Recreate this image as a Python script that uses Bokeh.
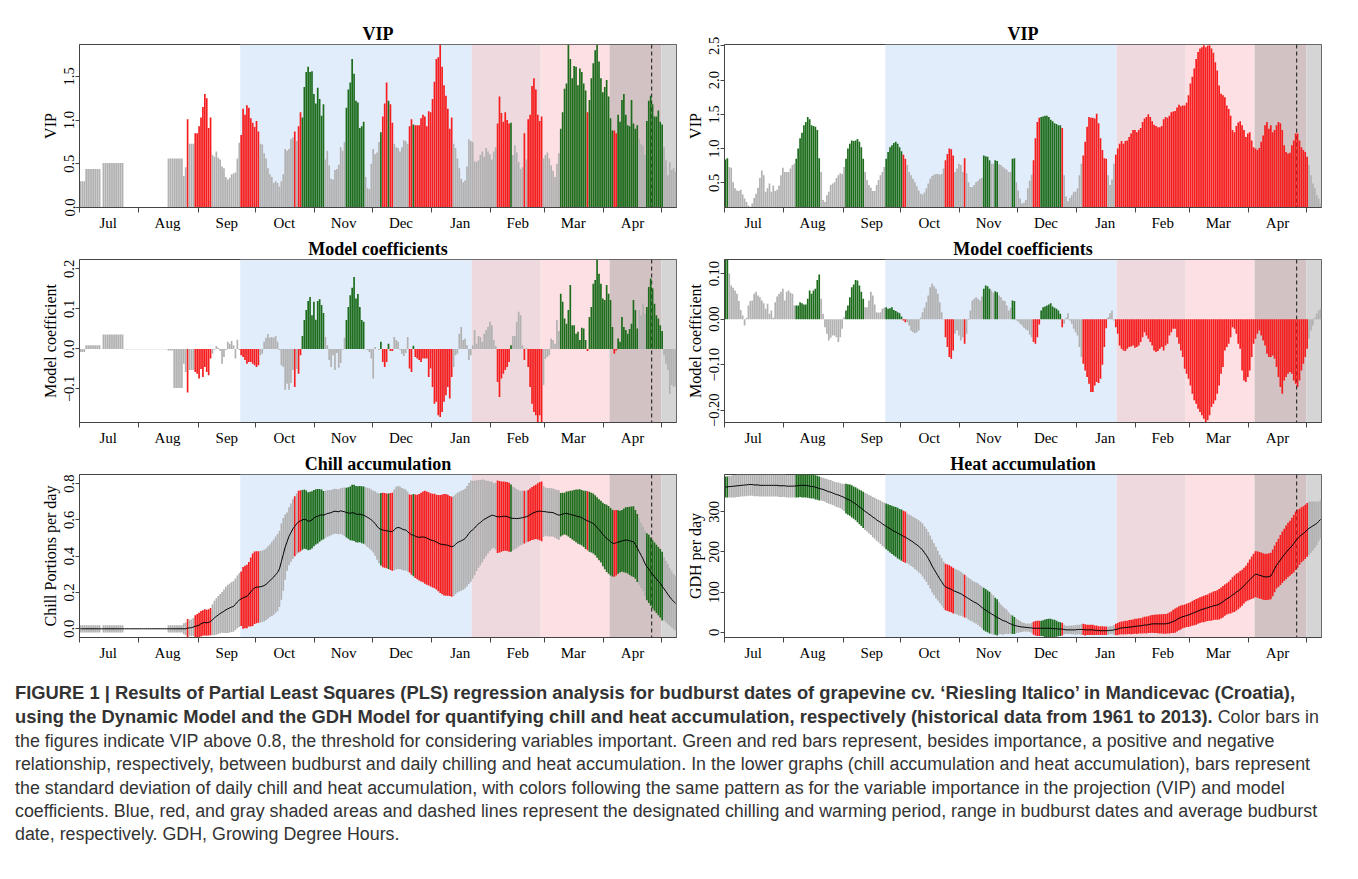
import numpy as np
from bokeh.plotting import figure
from bokeh.models import FixedTicker, Range1d, BoxAnnotation, Span, Div
from bokeh.layouts import column, row
from bokeh.embed import file_html
from bokeh.resources import INLINE


def vals(s):
    return [float(v) for v in s.split()]


N_DAYS = 312
month_names = ["Jul", "Aug", "Sep", "Oct", "Nov", "Dec", "Jan", "Feb", "Mar", "Apr"]
month_starts = [0, 31, 62, 92, 123, 153, 184, 215, 243, 274, 304]
month_mids = [15, 46, 77, 107, 138, 168, 199, 229, 258, 289]
chill_period = (84, 241)
heat_period = (205, 304)
budburst_range = (277, 312)
mean_budburst = 299

vip_left = vals("""
0.30 0.30 0.30 0.44 0.44 0.44 0.44 0.44 0.44 0.44
0.44 0.005 0.51 0.51 0.51 0.51 0.51 0.51 0.51 0.51
0.51 0.51 0.51 0.005 0.005 0.005 0.005 0.005 0.005 0.005
0.005 0.005 0.005 0.005 0.005 0.005 0.005 0.005 0.005 0.005
0.005 0.005 0.005 0.005 0.005 0.005 0.56 0.56 0.56 0.56
0.56 0.56 0.56 0.56 0.36 0.46 1.01 0.73 0.73 0.73
0.85 0.85 0.93 1.03 1.15 1.30 1.25 0.91 1.03 0.60
0.58 0.64 0.57 0.55 0.47 0.45 0.35 0.32 0.34 0.38
0.39 0.40 0.56 0.74 0.83 1.13 1.06 1.17 1.14 1.02
0.97 0.92 0.99 0.87 0.73 0.72 0.62 0.56 0.45 0.38
0.35 0.28 0.30 0.28 0.24 0.30 0.38 0.67 0.65 0.67
0.78 0.80 0.87 0.76 0.93 1.09 1.03 1.38 1.55 1.61
1.55 1.56 1.30 1.19 1.37 1.24 1.05 1.18 0.55 0.65
0.48 0.33 0.32 0.43 0.44 0.49 0.69 0.65 0.75 1.14
1.35 1.43 1.70 1.53 1.22 1.20 0.91 0.93 0.98 0.35
0.22 0.21 0.50 0.67 0.61 0.63 0.75 0.86 1.04 1.19
1.43 1.22 1.18 0.97 0.73 0.69 0.68 0.64 0.69 0.77
0.76 0.73 0.93 1.01 0.95 0.94 0.94 0.94 1.02 1.06
1.04 0.93 1.10 1.09 1.24 1.44 1.70 1.72 1.86 1.61
1.40 1.28 1.13 0.90 1.03 0.73 0.68 0.56 0.45 0.33
0.29 0.31 0.47 0.78 0.76 0.75 0.53 0.52 0.54 0.60
0.64 0.58 0.68 0.64 0.61 0.55 0.64 0.69 0.96 1.27
1.08 0.98 1.09 1.00 0.96 0.97 0.60 0.71 0.63 0.52
0.44 0.46 0.85 0.55 1.01 1.06 1.39 1.48 1.35 1.06
0.99 1.04 0.56 0.60 0.63 0.56 0.48 0.42 0.35 0.50
0.62 0.90 1.09 1.36 1.42 1.86 1.70 1.48 1.62 1.61
1.40 1.59 1.55 1.42 1.34 1.09 1.23 1.48 1.65 1.80
1.86 1.67 1.48 1.32 1.38 1.46 1.27 1.02 0.88 0.88
0.85 1.06 0.98 1.23 1.30 1.06 0.94 0.93 1.23 0.96
0.90 0.94 0.78 0.73 0.71 0.60 0.99 1.22 1.28 1.18
1.04 1.04 1.11 0.98 0.95 0.69 0.54 0.37 0.52 0.43
0.45 0.41
""")

coef_left = vals("""
-0.008 -0.008 -0.008 0.009 0.009 0.009 0.009 0.009 0.009 0.009
0.009 0.0 0.036 0.036 0.036 0.036 0.036 0.036 0.036 0.036
0.036 0.036 0.036 -0.001 -0.001 -0.001 -0.001 -0.001 -0.001 -0.001
-0.001 -0.001 -0.001 -0.001 -0.001 -0.001 -0.001 -0.001 -0.001 -0.001
-0.001 -0.001 -0.001 -0.001 -0.001 -0.001 -0.004 -0.004 -0.004 -0.098
-0.098 -0.098 -0.098 -0.098 -0.037 -0.058 -0.109 -0.053 -0.053 -0.053
-0.058 -0.062 -0.074 -0.050 -0.070 -0.045 -0.058 -0.066 -0.024 -0.012
-0.002 0.007 0.003 -0.005 -0.037 -0.020 -0.003 0.018 0.013 0.020
0.009 -0.024 0.023 -0.003 -0.016 -0.020 -0.028 -0.037 -0.033 -0.033
-0.037 -0.041 -0.045 -0.041 -0.016 -0.012 0.018 0.028 0.037 0.028
0.030 0.028 0.032 0.018 -0.003 -0.041 -0.045 -0.102 -0.087 -0.102
-0.085 -0.053 -0.095 -0.050 -0.062 -0.016 0.032 0.072 0.097 0.120
0.130 0.084 0.118 0.073 0.120 0.124 0.110 0.090 0.030 0.009
-0.028 -0.045 -0.016 -0.053 -0.010 -0.047 -0.035 -0.002 0.028 0.072
0.105 0.134 0.153 0.180 0.126 0.137 0.105 0.072 0.068 -0.001
-0.003 -0.008 -0.024 -0.074 0.005 0.0 -0.003 0.018 -0.033 -0.045
-0.033 0.013 -0.005 -0.005 0.030 0.022 0.018 -0.002 -0.012 -0.018
-0.010 0.030 -0.049 -0.058 0.008 -0.020 -0.024 -0.028 -0.033 -0.024
-0.024 -0.024 -0.070 -0.049 -0.095 -0.137 -0.132 -0.166 -0.170 -0.158
-0.132 -0.116 -0.095 -0.124 -0.070 -0.045 -0.016 -0.012 0.038 0.055
0.022 0.026 0.009 -0.028 -0.016 0.009 0.047 0.013 0.032 0.030
0.018 0.038 0.047 0.055 0.068 0.059 0.022 0.007 -0.083 -0.120
-0.074 -0.062 -0.053 -0.045 -0.033 0.009 0.032 0.032 0.068 0.093
0.084 0.009 -0.028 0.003 -0.045 -0.095 -0.137 -0.158 -0.166 -0.183
-0.166 -0.187 -0.090 -0.025 -0.020 -0.016 0.026 0.022 0.013 0.072
0.045 0.138 0.118 0.076 0.063 0.097 0.160 0.059 0.059 0.038
0.043 0.022 0.053 0.051 0.022 -0.005 0.080 0.105 0.163 0.172
0.223 0.188 0.163 0.126 0.122 0.160 0.138 0.122 0.055 -0.012
-0.004 0.026 0.018 0.080 0.055 0.047 0.038 0.050 0.063 0.122
0.097 0.051 0.097 0.084 0.113 0.088 0.105 0.155 0.176 0.151
0.113 0.084 0.076 0.059 0.045 -0.016 -0.037 -0.053 -0.112 -0.090
-0.095 -0.092
""")

chill_mean = vals("""
0 0 0 0 0 0 0 0 0 0
0 0 0 0 0 0 0 0 0 0
0 0 0 0 0 0 0 0 0 0
0 0 0 0 0 0 0 0 0 0
0 0 0 0 0 0 0 0 0 0
0 0 0 0 0 0 0.004 0.005 0.006 0.010
0.014 0.016 0.020 0.028 0.032 0.035 0.033 0.035 0.040 0.050
0.060 0.068 0.076 0.084 0.090 0.097 0.104 0.110 0.115 0.120
0.123 0.135 0.148 0.158 0.165 0.170 0.175 0.178 0.190 0.203
0.215 0.226 0.229 0.230 0.232 0.234 0.238 0.245 0.255 0.265
0.275 0.285 0.298 0.310 0.330 0.370 0.410 0.450 0.480 0.510
0.530 0.550 0.565 0.578 0.590 0.595 0.600 0.604 0.600 0.592
0.595 0.600 0.610 0.617 0.620 0.625 0.628 0.626 0.630 0.635
0.637 0.640 0.645 0.648 0.646 0.645 0.650 0.647 0.645 0.640
0.638 0.636 0.640 0.638 0.632 0.630 0.632 0.628 0.626 0.620
0.614 0.608 0.600 0.590 0.580 0.565 0.553 0.548 0.544 0.542
0.540 0.538 0.536 0.535 0.545 0.555 0.558 0.556 0.550 0.546
0.544 0.535 0.525 0.518 0.516 0.510 0.506 0.504 0.505 0.506
0.504 0.500 0.495 0.490 0.486 0.484 0.478 0.472 0.467 0.465
0.463 0.462 0.460 0.456 0.452 0.455 0.465 0.475 0.480 0.485
0.490 0.497 0.510 0.525 0.538 0.545 0.555 0.568 0.578 0.585
0.595 0.603 0.608 0.615 0.620 0.626 0.624 0.620 0.617 0.617
0.618 0.620 0.620 0.618 0.614 0.610 0.608 0.608 0.607 0.608
0.610 0.612 0.615 0.617 0.622 0.628 0.635 0.640 0.644 0.647
0.648 0.647 0.646 0.645 0.643 0.642 0.641 0.640 0.635 0.630
0.626 0.628 0.632 0.635 0.636 0.633 0.630 0.627 0.625 0.622
0.618 0.617 0.612 0.606 0.600 0.595 0.590 0.585 0.580 0.570
0.558 0.546 0.535 0.520 0.508 0.498 0.490 0.480 0.472 0.470
0.474 0.478 0.480 0.484 0.487 0.489 0.488 0.485 0.482 0.480
0.465 0.445 0.425 0.405 0.385 0.360 0.342 0.330 0.315 0.300
0.287 0.275 0.262 0.251 0.235 0.220 0.205 0.190 0.175 0.162
0.150 0.141
""")

chill_sd = vals("""
0.02 0.02 0.02 0.02 0.02 0.02 0.02 0.02 0.02 0.02
0.02 0 0.02 0.02 0.02 0.02 0.02 0.02 0.02 0.02
0.02 0.02 0.02 0 0 0 0 0 0 0
0 0 0 0 0 0 0 0 0 0
0 0 0 0 0 0 0.02 0.02 0.02 0.02
0.02 0.02 0.02 0.02 0.03 0.035 0.05 0.045 0.045 0.05
0.06 0.065 0.068 0.07 0.07 0.072 0.072 0.072 0.075 0.085
0.095 0.10 0.105 0.108 0.112 0.12 0.127 0.133 0.135 0.138
0.14 0.142 0.145 0.148 0.15 0.17 0.172 0.175 0.178 0.19
0.20 0.20 0.198 0.197 0.197 0.197 0.198 0.198 0.20 0.20
0.204 0.207 0.21 0.212 0.21 0.21 0.20 0.18 0.16 0.16
0.16 0.165 0.165 0.168 0.17 0.168 0.165 0.163 0.162 0.16
0.16 0.158 0.155 0.152 0.15 0.145 0.14 0.133 0.13 0.128
0.127 0.125 0.124 0.124 0.124 0.124 0.126 0.13 0.134 0.137
0.142 0.148 0.153 0.155 0.155 0.155 0.155 0.157 0.158 0.16
0.163 0.166 0.168 0.17 0.178 0.185 0.192 0.20 0.205 0.206
0.206 0.208 0.212 0.215 0.222 0.228 0.229 0.228 0.226 0.225
0.223 0.22 0.215 0.22 0.226 0.23 0.233 0.238 0.245 0.25
0.256 0.257 0.257 0.257 0.258 0.26 0.261 0.265 0.27 0.275
0.28 0.28 0.278 0.276 0.275 0.275 0.275 0.275 0.275 0.275
0.275 0.275 0.277 0.278 0.279 0.27 0.26 0.25 0.242 0.235
0.228 0.218 0.208 0.20 0.192 0.185 0.178 0.185 0.20 0.197
0.194 0.192 0.19 0.19 0.19 0.185 0.175 0.17 0.163 0.155
0.15 0.148 0.145 0.142 0.142 0.145 0.146 0.148 0.15 0.155
0.16 0.165 0.14 0.133 0.133 0.133 0.133 0.133 0.134 0.135
0.137 0.12 0.117 0.115 0.12 0.125 0.13 0.135 0.14 0.145
0.15 0.152 0.153 0.155 0.16 0.163 0.165 0.165 0.165 0.165
0.167 0.168 0.17 0.175 0.18 0.185 0.187 0.186 0.184 0.183
0.18 0.175 0.17 0.17 0.175 0.18 0.183 0.188 0.192 0.195
0.19 0.187 0.183 0.18 0.178 0.18 0.185 0.188 0.188 0.188
0.188 0.188 0.188 0.189 0.19 0.175 0.17 0.165 0.158 0.155
0.152 0.15
""")

vip_right = vals("""
0.84 0.86 0.73 0.72 0.51 0.42 0.39 0.38 0.40 0.33
0.27 0.22 0.17 0.15 0.20 0.28 0.34 0.43 0.57 0.68
0.61 0.37 0.42 0.49 0.37 0.46 0.38 0.40 0.46 0.61
0.72 0.66 0.66 0.66 0.71 0.76 0.78 0.85 1.00 1.15
1.23 1.34 1.39 1.46 1.43 1.34 1.33 1.32 1.27 0.86
0.66 0.25 0.22 0.32 0.37 0.47 0.49 0.51 0.57 0.61
0.64 0.63 0.73 0.85 1.00 1.07 1.12 1.11 1.12 1.14
1.10 1.02 0.85 0.66 0.54 0.47 0.43 0.38 0.38 0.47
0.54 0.61 0.66 0.73 0.85 0.95 1.02 1.05 1.08 1.10
1.07 1.02 0.96 0.91 0.85 0.76 0.66 0.61 0.56 0.51
0.45 0.39 0.34 0.33 0.36 0.42 0.49 0.56 0.60 0.62
0.63 0.63 0.62 0.63 0.71 0.83 0.92 1.00 0.99 0.90
0.66 0.71 0.78 0.76 0.66 0.86 0.64 0.51 0.44 0.44
0.47 0.51 0.53 0.56 0.57 0.90 0.89 0.88 0.83 0.78
0.78 0.83 0.82 0.77 0.76 0.73 0.71 0.69 0.66 0.66
0.85 0.86 0.51 0.39 0.27 0.20 0.21 0.25 0.42 0.53
0.62 0.83 1.15 1.39 1.45 1.46 1.47 1.48 1.48 1.46
1.42 1.40 1.37 1.36 1.34 1.34 1.30 0.61 0.30 0.23
0.28 0.32 0.37 0.37 0.42 0.61 0.78 0.90 1.10 1.32
1.46 1.45 1.45 1.44 1.51 1.37 1.15 0.98 0.86 0.85
0.61 0.47 0.55 0.78 0.91 1.00 1.07 1.11 1.07 1.11
1.12 1.17 1.22 1.27 1.27 1.24 1.27 1.30 1.39 1.44
1.46 1.50 1.46 1.40 1.35 1.33 1.31 1.31 1.33 1.43
1.46 1.45 1.48 1.53 1.54 1.55 1.60 1.64 1.62 1.63
1.63 1.67 1.78 1.95 2.05 2.17 2.31 2.41 2.46 2.48
2.51 2.48 2.50 2.51 2.46 2.40 2.26 2.14 1.92 1.80
1.78 1.75 1.63 1.58 1.48 1.27 1.24 1.33 1.38 1.40
1.34 1.27 1.17 1.22 1.24 1.12 1.02 1.00 0.98 1.01
1.10 1.19 1.34 1.39 1.29 1.34 1.24 1.27 1.34 1.39
1.37 1.27 1.05 0.95 0.93 0.94 1.05 1.12 1.22 1.22
1.12 1.02 0.98 0.95 0.88 0.76 0.61 0.49 0.42 0.32
0.27 0.20
""")

coef_right = vals("""
0.13 0.13 0.100 0.074 0.069 0.063 0.056 0.040 0.020 0.008
-0.014 0.003 0.030 0.040 0.041 0.056 0.060 0.052 0.048 0.041
0.035 0.023 0.034 0.012 0.019 0.003 0.037 0.050 0.056 0.060
0.067 0.041 0.060 0.063 0.058 0.056 0.030 0.030 0.030 0.037
0.035 0.032 0.032 0.045 0.063 0.056 0.063 0.067 0.086 0.098
0.045 0.012 -0.018 -0.032 -0.047 -0.041 -0.036 -0.036 -0.040 -0.050
-0.040 -0.021 0.004 0.019 0.030 0.048 0.070 0.076 0.086 0.085
0.074 0.060 0.045 0.026 0.026 0.041 0.060 0.052 0.032 0.015
0.014 0.015 0.023 0.025 0.026 0.023 0.024 0.026 0.020 0.018
0.015 0.013 0.006 -0.003 -0.007 -0.007 -0.014 -0.025 -0.029 -0.031
-0.029 -0.025 0.003 0.015 0.025 0.037 0.052 0.070 0.078 0.072
0.067 0.056 0.037 0.015 -0.001 -0.040 -0.061 -0.083 -0.087 -0.069
-0.032 -0.025 -0.036 -0.047 -0.040 -0.054 -0.032 -0.002 0.019 0.041
0.045 0.048 0.045 0.041 0.050 0.067 0.074 0.072 0.067 0.063
0.058 0.061 0.059 0.052 0.048 0.041 0.040 0.030 0.019 0.025
0.041 0.040 -0.003 -0.005 -0.010 -0.014 -0.019 -0.023 -0.025 -0.034
-0.040 -0.050 -0.054 -0.040 -0.012 0.019 0.026 0.028 0.030 0.032
0.035 0.028 0.025 0.023 0.019 0.012 -0.018 -0.010 0.003 0.013
-0.003 -0.010 -0.021 -0.029 -0.036 -0.061 -0.083 -0.098 -0.113 -0.127
-0.142 -0.160 -0.160 -0.146 -0.138 -0.140 -0.131 -0.100 -0.061 -0.020
0.004 0.013 0.019 -0.003 -0.018 -0.032 -0.058 -0.065 -0.069 -0.070
-0.065 -0.061 -0.060 -0.058 -0.063 -0.061 -0.058 -0.050 -0.040 -0.029
-0.036 -0.043 -0.050 -0.058 -0.069 -0.072 -0.070 -0.065 -0.061 -0.069
-0.058 -0.054 -0.036 -0.029 -0.021 -0.021 -0.040 -0.054 -0.069 -0.083
-0.109 -0.120 -0.131 -0.146 -0.164 -0.178 -0.186 -0.197 -0.204 -0.211
-0.219 -0.226 -0.222 -0.211 -0.193 -0.186 -0.178 -0.164 -0.146 -0.120
-0.105 -0.069 -0.061 -0.054 -0.040 -0.018 -0.021 -0.032 -0.054 -0.065
-0.113 -0.135 -0.138 -0.127 -0.113 -0.083 -0.054 -0.043 -0.032 -0.025
-0.036 -0.047 -0.058 -0.076 -0.083 -0.083 -0.080 -0.087 -0.105 -0.127
-0.149 -0.164 -0.135 -0.127 -0.120 -0.116 -0.120 -0.135 -0.142 -0.149
-0.135 -0.113 -0.098 -0.083 -0.065 -0.043 -0.025 -0.014 0.003 0.012
0.019 0.023
""")

heat_mean = vals("""
362 362 363 363 364 364 365 365 366 366
367 367 368 368 368 367 367 367 366 366
366 366 366 366 366 366 366 366 365 365
365 365 364 364 364 364 364 365 365 366
366 366 366 365 364 363 363 361 360 358
357 356 354 352 350 349 347 345 343 342
340 338 336 333 331 329 326 323 320 316
312 309 305 301 298 294 291 287 284 280
277 274 270 267 264 261 258 255 252 250
247 244 242 239 237 234 231 228 225 221
218 214 210 205 198 192 184 175 165 157
149 141 133 126 118 113 111 109 107 104
102 100 98 96 93 90 87 84 81 78
75 73 70 66 62 58 55 52 49 46
43 40 37 35 32 29 28 26 23 21
19 17 16 15 14 13 13 12 12 11
11 10 10 10 10 10 10 10 10 10
10 9 9 9 8 8 8 7 6 6
6 6 6 6 7 7 7 7 6 6
6 6 6 5 5 4 4 4 4 4
4 5 5 6 7 8 10 11 11 12
12 13 13 14 15 15 16 16 17 18
18 19 20 21 21 21 21 21 21 21
21 22 23 25 27 29 32 35 37 39
40 42 43 45 47 49 51 53 55 57
58 60 61 63 64 66 67 68 70 73
76 80 83 86 89 93 96 100 103 107
111 116 121 126 131 136 140 145 144 142
141 139 138 138 139 140 148 158 167 173
180 187 193 199 205 209 215 221 228 233
238 243 246 250 255 259 262 265 268 271
276 281
""")

heat_sd = vals("""
26 26 27 27 28 28 28 28 28 28
28 28 28 28 28 28 28 28 28 28
28 28 28 28 28 28 28 28 28 28
28 28 28 28 28 28 28 29 29 29
30 30 30 30 30 30 30 30 30 30
29 29 29 30 30 30 30 30 31 31
31 32 34 37 38 39 40 40 41 42
43 44 45 46 47 48 49 50 51 52
53 54 55 56 57 58 59 60 61 62
63 63 64 64 64 62 62 63 63 64
64 65 65 66 66 66 66 66 66 65
64 62 60 59 58 58 58 58 57 57
56 56 56 55 54 53 52 52 52 51
51 51 52 52 52 53 53 52 52 50
49 46 45 40 37 35 32 30 27 24
23 21 18 16 14 12 11 10 10 10
12 16 18 19 19 19 20 22 23 24
24 23 22 20 18 17 16 12 10 10
10 11 11 12 12 12 13 14 14 13
13 13 12.5 12 12 11 11 11 10.5 10.5
10 10 10 12 14.5 15 15.5 16 16.5 17
17 17.5 18 18 18.5 19 19 19 20 20.5
21 21 21.5 22 22.5 23 23.5 24 24 24.5
24.5 25 26 27 29 30 30 30 30 29
29 29 30 30 31 31.5 32 32 32 32
33 33 33 34 35 35.5 36 37 38 38.5
39 39 39 40 42 44 45.5 45.5 45.5 45.5
45 44.5 44.5 47 50 53 55.5 57 58 58
58 58 57.5 57.5 58 58 58 58 58 60
62 64 65 67 68 68.5 70 72 73 72
70 68.5 68 67.5 67 66.5 64 61 58 54
50 47
""")

for _name, _arr in [("vip_left", vip_left), ("coef_left", coef_left), ("chill_mean", chill_mean),
                    ("chill_sd", chill_sd), ("vip_right", vip_right), ("coef_right", coef_right),
                    ("heat_mean", heat_mean), ("heat_sd", heat_sd)]:
    assert len(_arr) == N_DAYS, (_name, len(_arr))

GREEN = "#1c6c1c"
RED = "#f51d1d"
GREY = "#b1b1b1"
SERIF = "Liberation Serif"


def bar_colors(vip, coef):
    out = []
    for v, c in zip(vip, coef):
        if v > 0.8:
            out.append(GREEN if c > 0 else RED)
        else:
            out.append(GREY)
    return out


def shade_segments():
    cuts = sorted(set([chill_period[0], chill_period[1], heat_period[0], heat_period[1],
                       budburst_range[0], budburst_range[1]]))
    segs = []
    for a, b in zip(cuts[:-1], cuts[1:]):
        mid = (a + b) / 2
        c = chill_period[0] <= mid < chill_period[1]
        h = heat_period[0] <= mid < heat_period[1]
        g = budburst_range[0] <= mid < budburst_range[1]
        if c and h:
            col = "#eed9de"
        elif c:
            col = "#e2edfb"
        elif h and g:
            col = "#d3c2c3"
        elif h:
            col = "#fde0e4"
        elif g:
            col = "#d5d5d5"
        else:
            continue
        segs.append((a, b, col))
    return segs


def panel(title, ylabel, yr, yticks, ylabels, bl, br, bt, bb):
    p = figure(frame_width=597, frame_height=163, x_range=Range1d(0, N_DAYS),
               y_range=Range1d(yr[0], yr[1]), output_backend="svg", toolbar_location=None,
               min_border_left=bl, min_border_right=br, min_border_top=bt, min_border_bottom=bb,
               title=title)
    p.title.align = "center"
    p.title.text_font = SERIF
    p.title.text_font_size = "18px"
    p.title.text_font_style = "bold"
    p.title.text_color = "black"
    p.title.standoff = 2
    p.xgrid.visible = False
    p.ygrid.visible = False
    p.outline_line_color = "#444444"
    p.outline_line_width = 1
    p.background_fill_color = "white"
    p.border_fill_color = "white"
    for a, b, col in shade_segments():
        p.add_layout(BoxAnnotation(left=a, right=b, fill_color=col, fill_alpha=1.0,
                                   line_alpha=0, level="underlay"))
    p.add_layout(Span(location=mean_budburst, dimension="height", line_color="#333333",
                      line_dash="4 3", line_width=1.2, level="underlay"))

    xa = p.xaxis[0]
    xa.ticker = FixedTicker(ticks=month_mids, minor_ticks=month_starts)
    xa.major_label_overrides = {m: n for m, n in zip(month_mids, month_names)}
    xa.major_tick_out = 0
    xa.major_tick_in = 0
    xa.minor_tick_out = 5
    xa.minor_tick_in = 0
    xa.minor_tick_line_color = "#444444"
    xa.axis_line_color = "#444444"
    xa.major_label_standoff = 2
    xa.major_label_text_font = SERIF
    xa.major_label_text_font_size = "15px"
    xa.major_label_text_color = "black"

    ya = p.yaxis[0]
    ya.ticker = FixedTicker(ticks=yticks)
    ya.major_label_overrides = {t: s for t, s in zip(yticks, ylabels)}
    ya.major_tick_out = 4
    ya.major_tick_in = 0
    ya.minor_tick_out = 0
    ya.minor_tick_in = 0
    ya.major_tick_line_color = "#444444"
    ya.axis_line_color = "#444444"
    ya.major_label_orientation = "vertical"
    ya.major_label_standoff = 1
    ya.major_label_text_font = SERIF
    ya.major_label_text_font_size = "14.5px"
    ya.major_label_text_color = "black"
    ya.axis_label = ylabel
    ya.axis_label_text_font = SERIF
    ya.axis_label_text_font_size = "16px"
    ya.axis_label_text_font_style = "normal"
    ya.axis_label_text_color = "black"
    ya.axis_label_standoff = 3
    return p


days = [d + 0.5 for d in range(N_DAYS)]
cols_left = bar_colors(vip_left, coef_left)
cols_right = bar_colors(vip_right, coef_right)

L_OUT, L_IN, R_IN, R_OUT = 79, 3, 45, 36

p1 = panel("VIP", "VIP", (0, 1.865), [0, 0.5, 1.0, 1.5], ["0.0", "0.5", "1.0", "1.5"], L_OUT, L_IN, 44, 26)
p1.vbar(x=days, top=vip_left, bottom=0, width=0.88, fill_color=cols_left, line_color=None)

p2 = panel("VIP", "VIP", (0.14, 2.52), [0.5, 1.0, 1.5, 2.0, 2.5], ["0.5", "1.0", "1.5", "2.0", "2.5"],
           R_IN, R_OUT, 44, 26)
p2.vbar(x=days, top=vip_right, bottom=0, width=0.88, fill_color=cols_right, line_color=None)

p3 = panel("Model coefficients", "Model coefficient", (-0.184, 0.2235), [-0.1, 0.0, 0.1, 0.2],
           ["\u22120.1", "0.0", "0.1", "0.2"], L_OUT, L_IN, 26, 26)
p3.vbar(x=days, top=coef_left, bottom=0, width=0.88, fill_color=cols_left, line_color=None)

p4 = panel("Model coefficients", "Model coefficient", (-0.227, 0.131), [-0.2, -0.1, 0.0, 0.1],
           ["\u22120.20", "\u22120.10", "0.00", "0.10"], R_IN, R_OUT, 26, 26)
p4.vbar(x=days, top=coef_right, bottom=0, width=0.88, fill_color=cols_right, line_color=None)

p5 = panel("Chill accumulation", "Chill Portions per day", (-0.048, 0.85), [0, 0.2, 0.4, 0.6, 0.8],
           ["0.0", "0.2", "0.4", "0.6", "0.8"], L_OUT, L_IN, 26, 26)
cm = np.array(chill_mean)
cs = np.array(chill_sd)
p5.vbar(x=days, top=cm + cs, bottom=cm - cs, width=0.88, fill_color=cols_left, line_color=None)
p5.line(x=days, y=chill_mean, line_color="black", line_width=1)

p6 = panel("Heat accumulation", "GDH per day", (-13, 393), [0, 100, 200, 300],
           ["0", "100", "200", "300"], R_IN, R_OUT, 26, 26)
hm = np.array(heat_mean)
hs = np.array(heat_sd)
p6.vbar(x=days, top=hm + hs, bottom=hm - hs, width=0.88, fill_color=cols_right, line_color=None)
p6.line(x=days, y=heat_mean, line_color="black", line_width=1)

caption_html = (
    "<div style=\"font-family:'Liberation Sans',Arial,sans-serif;font-size:17.85px;line-height:23.4px;"
    "color:#333333;padding:18px 0 0 15px;margin:0;white-space:nowrap;\">"
    "<b style=\"font-size:18.35px;\">FIGURE 1 | Results of Partial Least Squares (PLS) regression analysis for "
    "budburst dates of grapevine cv. \u2018Riesling Italico\u2019 in Mandicevac (Croatia),<br>"
    "using the Dynamic Model and the GDH Model for quantifying chill and heat accumulation, respectively "
    "(historical data from 1961 to 2013).</b> Color bars in<br>"
    "the figures indicate VIP above 0.8, the threshold for considering variables important. Green and red bars "
    "represent, besides importance, a positive and negative<br>"
    "relationship, respectively, between budburst and daily chilling and heat accumulation. In the lower graphs "
    "(chill accumulation and heat accumulation), bars represent<br>"
    "the standard deviation of daily chill and heat accumulation, with colors following the same pattern as for "
    "the variable importance in the projection (VIP) and model<br>"
    "coefficients. Blue, red, and gray shaded areas and dashed lines represent the designated chilling and "
    "warming period, range in budburst dates and average budburst<br>"
    "date, respectively. GDH, Growing Degree Hours."
    "</div>"
)
caption = Div(text=caption_html, width=1358, height=214, margin=0)

layout = column(row(p1, p2), row(p3, p4), row(p5, p6), caption)

with open("out.html", "w") as f:
    f.write(file_html(layout, INLINE))
